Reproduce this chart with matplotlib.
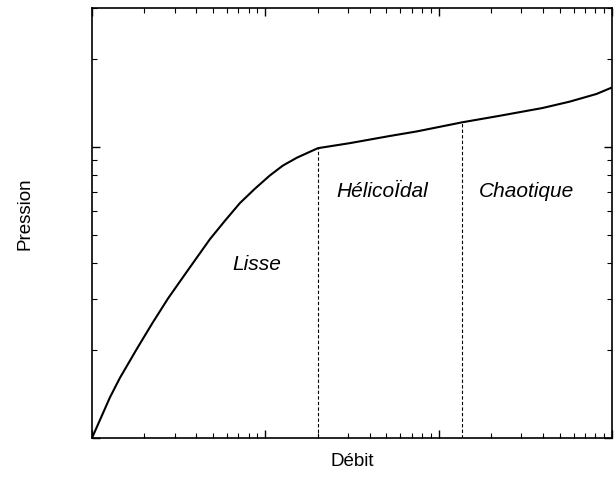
import matplotlib
matplotlib.use("Agg")
import matplotlib.pyplot as plt
from matplotlib.ticker import LogLocator, NullFormatter

plt.rcParams['font.family'] = ['Liberation Sans', 'DejaVu Sans']

# courbe pression / debit
debit = [1, 1.27, 1.45, 1.82, 2.22, 2.74, 3.35, 4.03, 4.79, 5.84, 7.13, 8.7,
         10.6, 12.6, 15.2, 20.1, 30.7, 52.2, 74.7, 137, 225, 397, 569, 814, 1000]
pression = [0.1, 0.138, 0.161, 0.203, 0.247, 0.301, 0.357, 0.417, 0.482, 0.557,
            0.641, 0.718, 0.797, 0.862, 0.918, 0.99, 1.03, 1.09, 1.13, 1.215,
            1.279, 1.36, 1.43, 1.52, 1.6]

# limites des regimes
limites_x = [20.1, 137]
limites_y = [0.99, 1.215]

regimes = ["Lisse", "HélicoÏdal", "Chaotique"]
regimes_x = [8.9, 47, 321]
regimes_y = [0.395, 0.70, 0.70]

fig = plt.figure(figsize=(6.16, 4.92), dpi=100)
ax = fig.add_axes([92/616, 1 - 438/492, 520/616, 430/492])

ax.plot(debit, pression, color='black', lw=1.5)
for xv, yv in zip(limites_x, limites_y):
    ax.plot([xv, xv], [0.1, yv], color='black', lw=0.8, ls=(0, (3, 2)))

for t, xv, yv in zip(regimes, regimes_x, regimes_y):
    ax.text(xv, yv, t, style='italic', fontsize=15, ha='center', va='center')

ax.set_xscale('log')
ax.set_yscale('log')
ax.set_xlim(1, 1000)
ax.set_ylim(0.1, 3)

ax.xaxis.set_major_locator(LogLocator(base=10))
ax.xaxis.set_minor_locator(LogLocator(base=10, subs=range(2, 10)))
ax.yaxis.set_major_locator(LogLocator(base=10))
ax.yaxis.set_minor_locator(LogLocator(base=10, subs=range(2, 10)))
for a in (ax.xaxis, ax.yaxis):
    a.set_major_formatter(NullFormatter())
    a.set_minor_formatter(NullFormatter())

ax.tick_params(which='both', direction='in', top=True, right=True, color='black')
ax.tick_params(which='major', length=6, width=1)
ax.tick_params(which='minor', length=3.5, width=0.8)
for s in ax.spines.values():
    s.set_linewidth(1.2)

fig.text(352/616, 1 - 462/492, "Débit", fontsize=13.5, ha='center', va='center')
fig.text(25/616, 1 - 214/492, "Pression", fontsize=13.5, rotation=90,
         ha='center', va='center')

fig.savefig("out.png", dpi=100)
